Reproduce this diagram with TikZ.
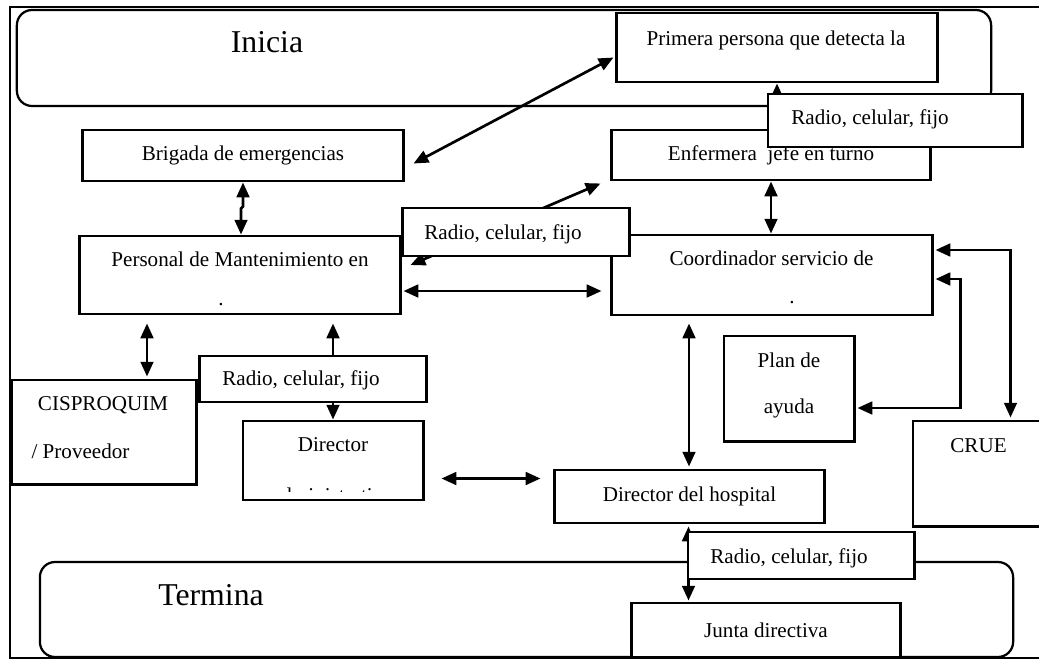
\documentclass[tikz,border=0pt]{standalone}
\usepackage{fontspec}
\setmainfont{Liberation Serif}
\usetikzlibrary{arrows.meta,calc}

\begin{document}
\begin{tikzpicture}[
    x=0.025cm, y=-0.025cm,
    box/.style={
        draw,
        fill = white,
        line width = 2.1pt,
        inner sep = 0pt,
        font = \fontsize{15}{18}\selectfont
    },
    lane/.style={
        draw,
        rounded corners = 0.38cm,
        line width = 1.6pt,
        inner sep = 0pt
    },
    txt/.style={
        inner sep = 0pt,
        anchor = base,
        font = \fontsize{15}{18}\selectfont
    },
    big/.style={
        txt,
        font = \fontsize{22.6}{26}\selectfont
    },
    link/.style={
        <->,
        line width = 1.9pt
    },
    >={Triangle[length=10.5pt,width=9pt]}
    ]

\useasboundingbox (0,0) rectangle (1039,660);

\draw[line width=1.4pt] (1039,7) -| (10,658) -- (1039,658);

\node[lane, minimum width=24.35cm, minimum height=2.4cm] (ini) at (504,58) {};
\node[lane, minimum width=24.325cm, minimum height=2.375cm] (ter) at (526.5,609.5) {};
\node[big] (ini-t) at (267,52) {Inicia};
\node[big] (ter-t) at (211,605) {Termina};

\node[box, minimum width=8cm, minimum height=1.725cm] (prim) at (777,47.5) {};
\node[box, minimum width=7.95cm, minimum height=1.25cm] (enf) at (771,155) {Enfermera\ \ jefe en turno};
\node[box, minimum width=8cm, minimum height=1.275cm] (brig) at (243,155.5) {Brigada de emergencias};
\node[box, minimum width=8cm, minimum height=1.95cm] (pers) at (240,275) {};
\node[box, minimum width=8cm, minimum height=2cm] (coord) at (772,275) {};
\node[box, minimum width=4.6cm, minimum height=2.6cm] (cisp) at (104,432) {};
\node[box, minimum width=4.5cm, minimum height=1.975cm] (dirA) at (333,460.5) {};
\node[box, minimum width=6.725cm, minimum height=1.325cm] (hosp) at (689.5,496.5) {Director del hospital};
\node[box, minimum width=3.25cm, minimum height=2.625cm] (plan) at (789,388.5) {};
\node[box, minimum width=3.3cm, minimum height=2.625cm] (crue) at (979,473.5) {};
\node[box, minimum width=6.7cm, minimum height=1.35cm] (junta) at (766,630) {Junta directiva};

\node[txt] (prim-t) at (776,45) {Primera persona que detecta la};
\node[txt] (pers-t) at (240,266) {Personal de Mantenimiento en};
\node[txt] (pers-d) at (221,305) {.};
\node[txt] (coord-t) at (771.5,265.7) {Coordinador servicio de};
\node[txt] (coord-d) at (792,303) {.};
\node[txt] (cisp-t) at (103,410) {CISPROQUIM};
\node[txt] (cisp-p) at (80.5,458) {/ Proveedor};
\node[txt] (dirA-t) at (333,451) {Director};
\begin{scope}
    \clip (243,421) rectangle (423,491);
    \node[txt] (dirA-a) at (333,502) {administrativo};
\end{scope}
\node[txt] (plan-t) at (789,367) {Plan de};
\node[txt] (plan-a) at (789,413) {ayuda};
\node[txt] (crue-t) at (978.5,452) {CRUE};

\draw[link] ($(brig.east)+(9,8)$) -- ($(prim.west)+(-2,10)$);
\draw[link] (prim.south) -- (prim.south |- enf.north);
\draw[link] (brig.south) -- ++(0,24) -- ++(-2,2) -- ($(pers.north)+(1,0)$);
\draw[link] (enf.south) -- (enf.south |- coord.north);
\draw[link] ($(pers.east)+(9,-10)$) -- ($(enf.south west)+(-10,2)$);
\draw[link] ($(pers.east)+(2,16)$) -- ($(coord.west)+(-9,16)$);
\draw[link] ($(pers.south)+(-93,8)$) -- ($(cisp.north)+(43,-2)$);
\draw[link] ($(pers.south)+(93,8)$) -- (dirA.north);
\draw[link] ($(dirA.east)+(17,18)$) -- ($(hosp.west)+(-13,-18)$);
\draw[link] ($(coord.south)+(-83,7)$) -- ($(hosp.north)+(-0.5,-2)$);
\draw[link] ($(coord.east)+(2,-25)$) -| ($(crue.north west)+(99,-2)$);
\draw[link] ($(coord.east)+(2,4)$) -- ++(25,0) |- ($(plan.east)+(2,19.5)$);
\draw[link] ($(hosp.south)+(-1,2)$) -- ($(hosp.south |- junta.north)+(-1,-1)$);

\node[box, minimum width=6.35cm, minimum height=1.325cm] (radA) at (895,120.5) {};
\node[box, minimum width=5.65cm, minimum height=1.2cm] (radB) at (516,232) {};
\node[box, minimum width=5.65cm, minimum height=1.15cm] (radC) at (313,379) {};
\node[box, minimum width=5.65cm, minimum height=1.175cm] (radD) at (801,555.5) {};
\node[txt] (radA-t) at (870,124) {Radio, celular, fijo};
\node[txt] (radB-t) at (503,239) {Radio, celular, fijo};
\node[txt] (radC-t) at (301,385) {Radio, celular, fijo};
\node[txt] (radD-t) at (789,563) {Radio, celular, fijo};
\end{tikzpicture}
\end{document}
